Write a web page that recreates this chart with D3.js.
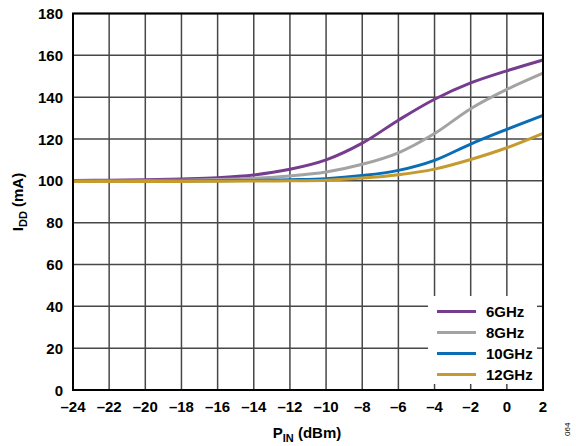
<!DOCTYPE html>
<html><head><meta charset="utf-8">
<script src="https://cdn.jsdelivr.net/npm/d3@7/dist/d3.min.js"></script>
<style>
html,body{margin:0;padding:0;background:#fff;}
text{font-family:"Liberation Sans",Arial,sans-serif;font-weight:bold;}
</style></head>
<body>
<svg id="chart" width="576" height="446"></svg>
<script>
const pin = [-24,-22,-20,-18,-16,-14,-12,-10,-8,-6,-4,-2,0,2];
const ghz6  = [100.2,100.3,100.5,100.9,101.5,102.8,105.5,110.0,118.0,129.0,139.0,146.8,152.6,157.8];
const ghz8  = [100.0,100.0,100.1,100.3,100.6,101.2,102.3,104.2,107.9,113.4,122.6,134.5,143.7,151.5];
const ghz10 = [99.8,99.8,99.8,99.9,100.0,100.2,100.5,101.0,102.5,105.0,109.8,117.6,124.6,131.3];
const ghz12 = [99.7,99.7,99.7,99.7,99.8,99.9,100.0,100.3,101.3,102.9,105.6,110.2,115.8,122.7];
const seriesNames = ["6GHz","8GHz","10GHz","12GHz"];
const seriesColors = ["#763c8e","#a3a3a3","#0a6db5","#c59b2e"];
const xTicks = [-24,-22,-20,-18,-16,-14,-12,-10,-8,-6,-4,-2,0,2];
const yTicks = [0,20,40,60,80,100,120,140,160,180];

const series = [ghz6, ghz8, ghz10, ghz12];
const svg = d3.select("#chart");
const m = {l:73, r:543, t:13.5, b:390};
const x = d3.scaleLinear().domain([-24,2]).range([m.l,m.r]);
const y = d3.scaleLinear().domain([0,180]).range([m.b,m.t]);

// grid
const g = svg.append("g");
g.selectAll(".vg").data(xTicks).join("line")
  .attr("x1",d=>x(d)).attr("x2",d=>x(d)).attr("y1",m.t).attr("y2",m.b)
  .attr("stroke","#474747").attr("stroke-width",1.5);
g.selectAll(".hg").data(yTicks).join("line")
  .attr("x1",m.l).attr("x2",m.r).attr("y1",d=>y(d)).attr("y2",d=>y(d))
  .attr("stroke","#474747").attr("stroke-width",1.5);

// curves
const line = d3.line().x(d=>x(d[0])).y(d=>y(d[1])).curve(d3.curveCatmullRom.alpha(0.5));
series.forEach((s,i)=>{
  svg.append("path").datum(pin.map((p,j)=>[p,s[j]]))
    .attr("d",line).attr("fill","none")
    .attr("stroke",seriesColors[i]).attr("stroke-width",3);
});

// legend box
const lg = svg.append("g");
lg.append("rect").attr("x",428).attr("y",296).attr("width",m.r-428).attr("height",m.b-296).attr("fill","#fff");
[-4,-2,0].forEach(t=>{
  lg.append("line").attr("x1",x(t)).attr("x2",x(t)).attr("y1",m.b).attr("y2",m.b-6)
    .attr("stroke","#474747").attr("stroke-width",1.5);
});
[20,40].forEach(t=>{
  lg.append("line").attr("x1",m.r).attr("x2",m.r-6).attr("y1",y(t)).attr("y2",y(t))
    .attr("stroke","#474747").attr("stroke-width",1.5);
});
seriesNames.forEach((n,i)=>{
  const yy = 311.5 + i*21;
  lg.append("line").attr("x1",437).attr("x2",476).attr("y1",yy).attr("y2",yy)
    .attr("stroke",seriesColors[i]).attr("stroke-width",3);
  lg.append("text").attr("x",486).attr("y",yy+5.5).attr("font-size",15).attr("fill","#000").text(n);
});

// frame
svg.append("rect").attr("x",m.l).attr("y",m.t).attr("width",m.r-m.l).attr("height",m.b-m.t)
  .attr("fill","none").attr("stroke","#000").attr("stroke-width",2);

// axes labels
const fmt = d => d<0 ? "\u2013"+Math.abs(d) : String(d);
svg.selectAll(".xt").data(xTicks).join("text")
  .attr("x",d=>x(d)).attr("y",412).attr("text-anchor","middle").attr("font-size",15).text(fmt);
svg.selectAll(".yt").data(yTicks).join("text")
  .attr("x",63).attr("y",d=>y(d)+5.5).attr("text-anchor","end").attr("font-size",15).text(fmt);

// x title
const xt = svg.append("text").attr("x",307).attr("y",438).attr("text-anchor","middle").attr("font-size",15);
xt.append("tspan").text("P");
xt.append("tspan").attr("dy",4).attr("font-size",11).text("IN");
xt.append("tspan").attr("dy",-4).text(" (dBm)");

// y title
const yt = svg.append("text").attr("transform","translate(23,202) rotate(-90)").attr("text-anchor","middle").attr("font-size",15);
yt.append("tspan").text("I");
yt.append("tspan").attr("dy",4).attr("font-size",11).text("DD");
yt.append("tspan").attr("dy",-4).text(" (mA)");

// figure id
svg.append("text").attr("transform","translate(570,436) rotate(-90)").attr("font-size",8)
  .style("font-weight","normal").text("064");
</script>
</body></html>
